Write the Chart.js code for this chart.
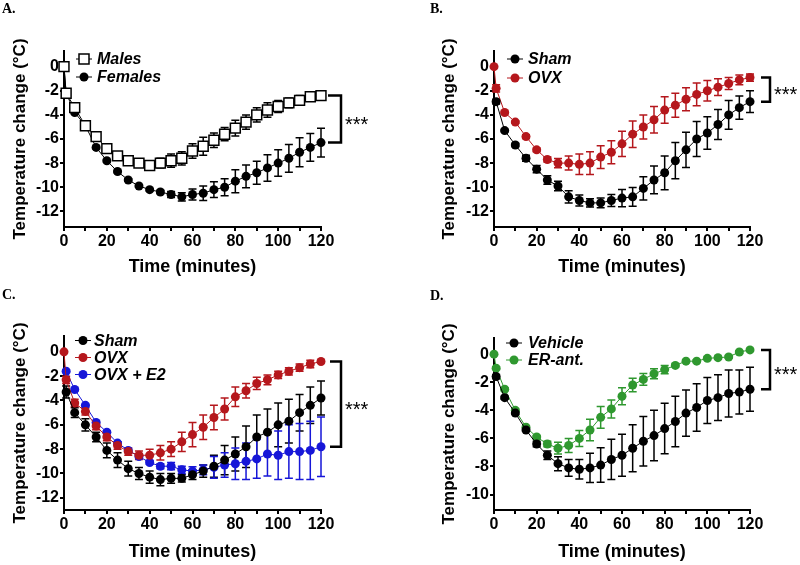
<!DOCTYPE html>
<html>
<head>
<meta charset="utf-8">
<script src="https://cdn.jsdelivr.net/npm/chart.js@4.4.1/dist/chart.umd.min.js"></script>
<style>
  body { margin: 0; background: #fff; width: 800px; height: 565px; position: relative; overflow: hidden; }
  .panel { position: absolute; }
  .tag { position: absolute; font: bold 14px 'Liberation Serif', 'Times New Roman', serif; color: #000; }
</style>
</head>
<body>
<div class="panel" style="left:0;top:0"><canvas id="chartA" width="400" height="282"></canvas></div>
<div class="panel" style="left:400px;top:0"><canvas id="chartB" width="400" height="282"></canvas></div>
<div class="panel" style="left:0;top:282px"><canvas id="chartC" width="400" height="283"></canvas></div>
<div class="panel" style="left:400px;top:282px"><canvas id="chartD" width="400" height="283"></canvas></div>
<div class="tag" style="left:2px;top:1px">A.</div>
<div class="tag" style="left:430px;top:1px">B.</div>
<div class="tag" style="left:2px;top:287px">C.</div>
<div class="tag" style="left:430px;top:288px">D.</div>
<script>
// time points (minutes)
const times = [0, 1, 5, 10, 15, 20, 25, 30, 35, 40, 45, 50, 55, 60, 65, 70, 75, 80, 85, 90, 95, 100, 105, 110, 115, 120];
const xTicks = [0, 10, 20, 30, 40, 50, 60, 70, 80, 90, 100, 110, 120];
const yTicks12 = [-12, -10, -8, -6, -4, -2, 0];
const yTicks10 = [-10, -8, -6, -4, -2, 0];

// A. Males vs Females
const malesA = [0, -2.2, -3.4, -4.9, -5.8, -6.8, -7.4, -7.8, -8.0, -8.2, -8.0, -7.8, -7.6, -7.0, -6.6, -6.1, -5.6, -5.1, -4.6, -4.0, -3.6, -3.3, -3.0, -2.8, -2.5, -2.4];
const malesAErr = [0, 0.15, 0.15, 0.2, 0.2, 0.2, 0.2, 0.2, 0.25, 0.35, 0.4, 0.55, 0.55, 0.6, 0.75, 0.6, 0.55, 0.65, 0.6, 0.6, 0.6, 0.5, 0.4, 0.4, 0.25, 0.15];
const femalesA = [0, -2.2, -3.8, -4.9, -6.7, -7.8, -8.7, -9.4, -9.9, -10.2, -10.4, -10.6, -10.8, -10.6, -10.5, -10.2, -10.0, -9.5, -9.1, -8.8, -8.4, -8.0, -7.6, -7.1, -6.7, -6.3];
const femalesAErr = [0, 0.1, 0.1, 0.1, 0.1, 0.1, 0.1, 0.1, 0.1, 0.1, 0.15, 0.25, 0.35, 0.45, 0.6, 0.65, 0.7, 0.95, 0.95, 0.95, 1.1, 1.1, 1.15, 1.2, 1.15, 1.2];

// B. Sham vs OVX
const shamB = [null, -2.9, -5.3, -6.5, -7.6, -8.5, -9.4, -9.9, -10.8, -11.1, -11.3, -11.3, -11.1, -10.9, -10.8, -10.1, -9.4, -8.8, -7.8, -6.9, -6.0, -5.5, -4.8, -4.0, -3.4, -2.9];
const shamBErr = [0, 0.2, 0.1, 0.15, 0.25, 0.3, 0.35, 0.4, 0.5, 0.45, 0.35, 0.4, 0.5, 0.72, 0.78, 0.96, 1.15, 1.4, 1.5, 1.47, 1.45, 1.35, 1.24, 1.2, 0.96, 0.9];
const ovxB = [0, -1.8, -3.8, -4.6, -5.8, -6.9, -7.7, -8.0, -8.0, -8.1, -8.0, -7.5, -7.1, -6.4, -5.6, -5.0, -4.4, -3.6, -3.2, -2.7, -2.3, -2.0, -1.7, -1.4, -1.1, -0.9];
const ovxBErr = [0, 0.3, 0.1, 0.1, 0.15, 0.15, 0.2, 0.38, 0.58, 0.85, 0.95, 0.95, 0.95, 1.05, 1.1, 1.0, 1.1, 1.1, 1.0, 0.95, 0.95, 0.85, 0.7, 0.5, 0.4, 0.3];

// C. Sham vs OVX vs OVX + E2
const shamC = [null, -3.3, -5.0, -6.0, -7.0, -8.1, -8.9, -9.6, -10.0, -10.3, -10.5, -10.4, -10.4, -10.1, -9.8, -9.4, -8.9, -8.4, -7.8, -7.0, -6.6, -6.0, -5.7, -5.0, -4.4, -3.8];
const shamCErr = [0, 0.5, 0.4, 0.5, 0.4, 0.6, 0.6, 0.6, 0.5, 0.5, 0.5, 0.4, 0.3, 0.4, 0.5, 0.9, 1.2, 1.4, 1.7, 1.8, 1.9, 1.8, 1.8, 1.5, 1.5, 1.4];
const ovxC = [0, -2.3, -4.2, -4.9, -6.1, -7.0, -7.7, -8.2, -8.5, -8.5, -8.3, -8.0, -7.4, -6.8, -6.2, -5.4, -4.7, -3.7, -3.2, -2.6, -2.3, -1.9, -1.6, -1.3, -1.0, -0.8];
const ovxCErr = [0, 0.3, 0.3, 0.3, 0.3, 0.3, 0.3, 0.3, 0.35, 0.5, 0.6, 0.6, 0.8, 1.0, 1.0, 1.0, 0.9, 0.8, 0.6, 0.5, 0.4, 0.3, 0.3, 0.3, 0.3, 0.1];
const e2C = [null, -1.6, -3.1, -4.4, -5.8, -6.6, -7.5, -8.1, -8.6, -9.1, -9.4, -9.4, -9.7, -9.8, -9.7, -9.5, -9.3, -9.2, -9.0, -8.8, -8.4, -8.5, -8.2, -8.2, -8.1, -7.8];
const e2CErr = [0, 0.1, 0.1, 0.1, 0.1, 0.1, 0.1, 0.1, 0.1, 0.15, 0.2, 0.3, 0.3, 0.35, 0.4, 0.9, 1.0, 1.3, 1.5, 1.6, 1.8, 2.0, 2.2, 2.3, 2.4, 2.45];

// D. Vehicle vs ER-antagonist
const vehD = [null, -1.6, -3.1, -4.2, -5.4, -6.4, -7.2, -7.8, -8.1, -8.2, -8.1, -7.9, -7.5, -7.2, -6.7, -6.2, -5.8, -5.3, -4.8, -4.2, -3.8, -3.3, -3.1, -2.8, -2.7, -2.5];
const vehDErr = [0, 0.15, 0.1, 0.1, 0.1, 0.2, 0.3, 0.5, 0.6, 0.7, 1.05, 1.23, 1.43, 1.5, 1.68, 1.76, 1.8, 1.8, 1.8, 1.64, 1.7, 1.64, 1.63, 1.67, 1.57, 1.57];
const erD = [0, -1.0, -2.5, -4.0, -5.2, -5.9, -6.4, -6.7, -6.5, -6.0, -5.4, -4.5, -3.9, -3.0, -2.2, -1.8, -1.4, -1.1, -0.8, -0.5, -0.5, -0.3, -0.25, -0.2, 0.15, 0.3];
const erDErr = [0, 0.1, 0.1, 0.1, 0.1, 0.1, 0.2, 0.42, 0.5, 0.57, 0.77, 0.77, 0.64, 0.6, 0.48, 0.42, 0.36, 0.3, 0.1, 0.1, 0.1, 0.1, 0.1, 0.1, 0.1, 0.1];

const black = '#000000';
const red = '#b5171c';
const blue = '#1616d8';
const green = '#2f982f';

const tickFont = { family: "'Liberation Sans Narrow', 'Liberation Sans', Arial, sans-serif", weight: 'bold', size: 16 };
const titleFont = { family: "'Liberation Sans', Arial, sans-serif", weight: 'bold', size: 17 };
const legendFont = "italic bold 16px 'Liberation Sans', Arial, sans-serif";

function series(label, values, errors, color, shape) {
  const open = shape === 'rect';
  return {
    label: label,
    err: errors,
    data: values.map((v, i) => ({ x: times[i], y: v })),
    borderColor: color,
    backgroundColor: open ? '#fff' : color,
    pointStyle: open ? 'rect' : 'circle',
    pointRadius: open ? 7 : 4.5,
    pointBorderWidth: open ? 1.5 : 0,
    pointBorderColor: color,
    borderWidth: 1,
    clip: false
  };
}

// error bars drawn through the scales
const errorBars = {
  id: 'errorBars',
  beforeDatasetsDraw(chart) {
    const { ctx } = chart;
    const x = chart.scales.x, y = chart.scales.y;
    ctx.save();
    chart.data.datasets.forEach(ds => {
      ctx.strokeStyle = ds.borderColor;
      ctx.lineWidth = 1.5;
      ds.data.forEach((p, i) => {
        const e = ds.err[i];
        if (p.y === null || !e) return;
        const px = x.getPixelForValue(p.x);
        const top = y.getPixelForValue(p.y + e);
        const bot = y.getPixelForValue(p.y - e);
        ctx.beginPath();
        ctx.moveTo(px, top); ctx.lineTo(px, bot);
        ctx.moveTo(px - 4, top); ctx.lineTo(px + 4, top);
        ctx.moveTo(px - 4, bot); ctx.lineTo(px + 4, bot);
        ctx.stroke();
      });
    });
    ctx.restore();
  }
};

// legend in the top left of the plot
const markLegend = {
  id: 'markLegend',
  afterDraw(chart, args, opts) {
    const { ctx } = chart;
    ctx.save();
    chart.data.datasets.forEach((ds, i) => {
      const cy = opts.rows[i];
      ctx.strokeStyle = ds.borderColor;
      ctx.lineWidth = 1;
      ctx.beginPath();
      ctx.moveTo(opts.x - 8, cy); ctx.lineTo(opts.x + 8, cy);
      ctx.stroke();
      if (ds.pointStyle === 'rect') {
        ctx.fillStyle = '#fff';
        ctx.lineWidth = 1.5;
        ctx.fillRect(opts.x - 5, cy - 5, 10, 10);
        ctx.strokeRect(opts.x - 5, cy - 5, 10, 10);
      } else {
        ctx.fillStyle = ds.borderColor;
        ctx.beginPath();
        ctx.arc(opts.x, cy, 4.5, 0, Math.PI * 2);
        ctx.fill();
      }
      ctx.fillStyle = '#000';
      ctx.font = legendFont;
      ctx.textBaseline = 'middle';
      ctx.fillText(ds.label, opts.textX, cy + 1);
    });
    ctx.restore();
  }
};

// significance bracket between the last points of two series
const bracket = {
  id: 'bracket',
  afterDraw(chart, args, opts) {
    const { ctx, chartArea } = chart;
    const y = chart.scales.y;
    const last = ds => ds.data[ds.data.length - 1].y;
    const y1 = y.getPixelForValue(last(chart.data.datasets[opts.from]));
    const y2 = y.getPixelForValue(last(chart.data.datasets[opts.to]));
    const x0 = chartArea.right + opts.armStart;
    const x1 = chartArea.right + 20;
    ctx.save();
    ctx.strokeStyle = '#000';
    ctx.lineWidth = 2.5;
    ctx.beginPath();
    ctx.moveTo(x0, y1); ctx.lineTo(x1, y1); ctx.lineTo(x1, y2); ctx.lineTo(x0, y2);
    ctx.stroke();
    ctx.fillStyle = '#000';
    ctx.font = "20px 'Liberation Sans', Arial, sans-serif";
    ctx.textBaseline = 'alphabetic';
    ctx.fillText('***', x1 + 4, (y1 + y2) / 2 + 11.5);
    ctx.restore();
  }
};

function makePanel(id, datasets, yMin, yMax, yTicks, box, legend, pair) {
  const canvas = document.getElementById(id);
  const W = canvas.width, H = canvas.height;
  return new Chart(canvas, {
    type: 'line',
    data: { datasets: datasets },
    options: {
      responsive: false,
      animation: false,
      layout: { padding: { left: box.padLeft, top: box.top, right: W - box.right, bottom: 0 } },
      plugins: {
        legend: { display: false },
        tooltip: { enabled: false },
        markLegend: legend,
        bracket: pair
      },
      scales: {
        x: {
          type: 'linear', min: 0, max: 120,
          afterFit: s => { s.height = H - box.bottom; },
          afterBuildTicks: s => { s.ticks = xTicks.map(v => ({ value: v })); },
          ticks: { autoSkip: false, maxRotation: 0, color: '#000', font: tickFont, padding: 1,
                   callback: v => (v % 20 === 0 ? String(v) : '') },
          grid: { drawOnChartArea: false, tickLength: 4, color: '#000', lineWidth: 2 },
          border: { color: '#000', width: 2 },
          title: { display: true, text: 'Time (minutes)', color: '#000',
                   font: { family: titleFont.family, weight: 'bold', size: 18 }, padding: { top: 0, bottom: box.titlePad } }
        },
        y: {
          min: yMin, max: yMax,
          afterFit: s => { s.width = box.left - box.padLeft; },
          afterBuildTicks: s => { s.ticks = yTicks.map(v => ({ value: v })); },
          ticks: { color: '#000', font: tickFont, padding: 1, callback: v => String(v) },
          grid: { drawOnChartArea: false, tickLength: 4, color: '#000', lineWidth: 2 },
          border: { color: '#000', width: 2 },
          title: { display: true, text: 'Temperature change (°C)', color: '#000', font: titleFont, padding: { top: 10, bottom: 0 } }
        }
      }
    },
    plugins: [errorBars, markLegend, bracket]
  });
}

makePanel('chartA',
  [series('Males', malesA, malesAErr, black, 'rect'), series('Females', femalesA, femalesAErr, black)],
  -13.3, 1.3, yTicks12,
  { left: 64, right: 321, top: 51, bottom: 227, padLeft: 0, titlePad: 4.5 },
  { x: 84, textX: 97, rows: [59, 77] },
  { from: 0, to: 1, armStart: 7 });

makePanel('chartB',
  [series('Sham', shamB, shamBErr, black), series('OVX', ovxB, ovxBErr, red)],
  -13.3, 1.3, yTicks12,
  { left: 94, right: 350, top: 51, bottom: 227, padLeft: 29, titlePad: 4.5 },
  { x: 115, textX: 128, rows: [59, 78] },
  { from: 1, to: 0, armStart: 11 });

makePanel('chartC',
  [series('Sham', shamC, shamCErr, black), series('OVX', ovxC, ovxCErr, red), series('OVX + E2', e2C, e2CErr, blue)],
  -13, 1.3, yTicks12,
  { left: 64, right: 321, top: 54, bottom: 228, padLeft: 0, titlePad: 2.5 },
  { x: 83, textX: 94, rows: [58.5, 75.5, 92.5] },
  { from: 1, to: 2, armStart: 9 });

makePanel('chartD',
  [series('Vehicle', vehD, vehDErr, black), series('ER-ant.', erD, erDErr, green)],
  -11.1, 1.15, yTicks10,
  { left: 94, right: 350, top: 56, bottom: 228, padLeft: 29, titlePad: 2.5 },
  { x: 114, textX: 128, rows: [61, 78] },
  { from: 1, to: 0, armStart: 11 });
</script>
</body>
</html>
